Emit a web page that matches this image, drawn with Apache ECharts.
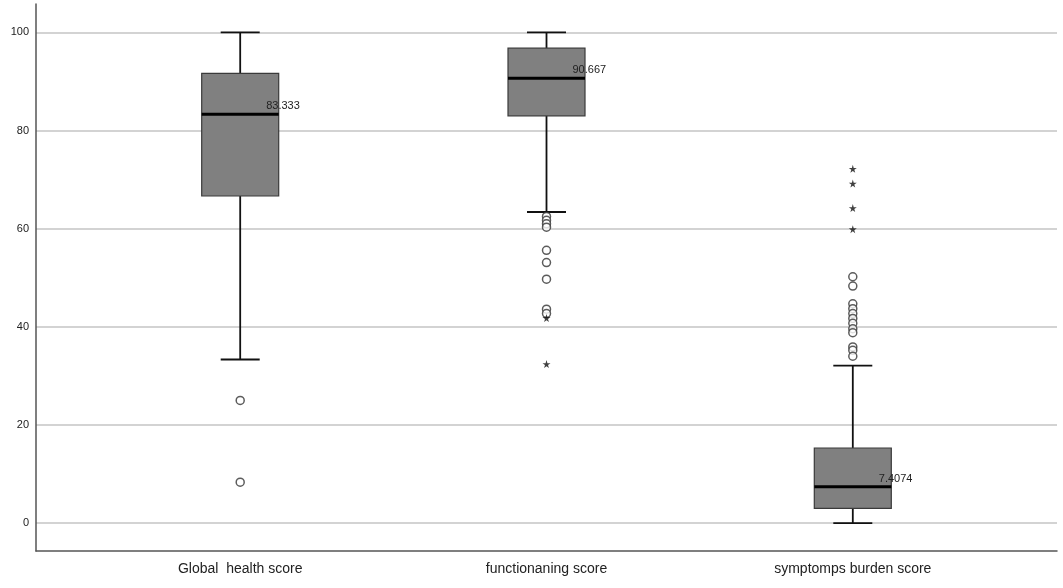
<!DOCTYPE html>
<html>
<head>
<meta charset="utf-8">
<script src="https://cdn.jsdelivr.net/npm/echarts@6/dist/echarts.min.js"></script>
<style>html,body{margin:0;padding:0;background:#fff}#c{width:1063px;height:588px}</style>
</head>
<body>
<div id="c"></div>
<script>
var categories = ['Global  health score', 'functionaning score', 'symptomps burden score'];
var catPos = [1, 2, 3];
// [min, Q1, median, Q3, max]
var boxStats = [
  [33.333, 66.667, 83.333, 91.667, 100],
  [63.4, 83.0, 90.667, 96.8, 100],
  [0, 3.0, 7.4074, 15.3, 32.1]
];
var medianLabels = ['83.333', '90.667', '7.4074'];
var circleOutliers = [
  [25, 8.333],
  [62.5, 61.7, 61.0, 60.3, 55.6, 53.1, 49.7, 43.6, 42.7],
  [50.2, 48.3, 44.7, 43.7, 42.7, 41.7, 40.7, 39.6, 38.8, 35.9, 35.2, 34.0]
];
var starOutliers = [
  [],
  [41.8, 32.4],
  [72.2, 69.2, 64.2, 59.9]
];
var yTicks = [0, 20, 40, 60, 80, 100];

var BOX_W = 77, CAP_W = 39;
var boxData = boxStats.map(function (s, i) { return [catPos[i]].concat(s); });
var circData = [], starData = [];
circleOutliers.forEach(function (arr, i) { arr.forEach(function (v) { circData.push([catPos[i], v]); }); });
starOutliers.forEach(function (arr, i) { arr.forEach(function (v) { starData.push([catPos[i], v]); }); });

var starPath = 'path://M50,0 L61,35 L98,35 L68,57 L79,91 L50,70 L21,91 L32,57 L2,35 L39,35 Z';
var font = '"Liberation Sans", Arial, sans-serif';

function renderBox(params, api) {
  var x = api.value(0);
  var pMin = api.coord([x, api.value(1)]);
  var pQ1 = api.coord([x, api.value(2)]);
  var pMed = api.coord([x, api.value(3)]);
  var pQ3 = api.coord([x, api.value(4)]);
  var pMax = api.coord([x, api.value(5)]);
  var cx = pMed[0];
  var wStyle = { stroke: '#111', lineWidth: 1.8 };
  return {
    type: 'group',
    children: [
      { type: 'line', shape: { x1: cx, y1: pMax[1], x2: cx, y2: pQ3[1] }, style: wStyle },
      { type: 'line', shape: { x1: cx, y1: pQ1[1], x2: cx, y2: pMin[1] }, style: wStyle },
      { type: 'line', shape: { x1: cx - CAP_W / 2, y1: pMax[1], x2: cx + CAP_W / 2, y2: pMax[1] }, style: wStyle },
      { type: 'line', shape: { x1: cx - CAP_W / 2, y1: pMin[1], x2: cx + CAP_W / 2, y2: pMin[1] }, style: wStyle },
      {
        type: 'rect',
        shape: { x: cx - BOX_W / 2, y: pQ3[1], width: BOX_W, height: pQ1[1] - pQ3[1] },
        style: { fill: '#808080', stroke: '#3a3a3a', lineWidth: 1.2 }
      },
      {
        type: 'line',
        shape: { x1: cx - BOX_W / 2, y1: pMed[1], x2: cx + BOX_W / 2, y2: pMed[1] },
        style: { stroke: '#000', lineWidth: 3 }
      },
      {
        type: 'text',
        x: cx + 26,
        y: pMed[1] - 8,
        style: {
          text: medianLabels[params.dataIndex],
          fontSize: 11,
          fontFamily: font,
          fill: '#222',
          align: 'left',
          verticalAlign: 'middle'
        }
      }
    ]
  };
}

var chart = echarts.init(document.getElementById('c'));
chart.setOption({
  backgroundColor: '#ffffff',
  animation: false,
  grid: { left: 36, right: 6, top: 4, bottom: 37 },
  xAxis: {
    type: 'value',
    min: 1 / 3,
    max: 3 + 2 / 3,
    axisLine: { show: true, onZero: false, lineStyle: { color: '#555', width: 1.5 } },
    axisTick: { show: false, customValues: catPos },
    splitLine: { show: false },
    axisLabel: {
      customValues: catPos,
      margin: 11,
      fontSize: 14,
      fontFamily: font,
      color: '#222',
      formatter: function (v) { var i = catPos.indexOf(Math.round(v)); return i >= 0 ? categories[i] : ''; }
    }
  },
  yAxis: {
    type: 'value',
    min: -5.7,
    max: 105.8,
    axisLine: { show: true, lineStyle: { color: '#555', width: 1.5 } },
    axisTick: { show: false, customValues: yTicks },
    axisLabel: { customValues: yTicks, margin: 7, fontSize: 11, fontFamily: font, color: '#222' },
    splitLine: { show: true, lineStyle: { color: '#c4c4c4', width: 1.5 } }
  },
  series: [
    {
      type: 'custom',
      data: boxData,
      encode: { x: 0, y: [1, 2, 3, 4, 5] },
      silent: true,
      z: 3,
      renderItem: renderBox
    },
    {
      type: 'scatter',
      data: circData,
      symbol: 'circle',
      symbolSize: 8,
      itemStyle: { color: '#fff', borderColor: '#333', borderWidth: 1.5 },
      z: 4,
      silent: true
    },
    {
      type: 'scatter',
      data: starData,
      symbol: starPath,
      symbolSize: 8,
      itemStyle: { color: '#111' },
      z: 4,
      silent: true
    }
  ]
});
</script>
</body>
</html>
